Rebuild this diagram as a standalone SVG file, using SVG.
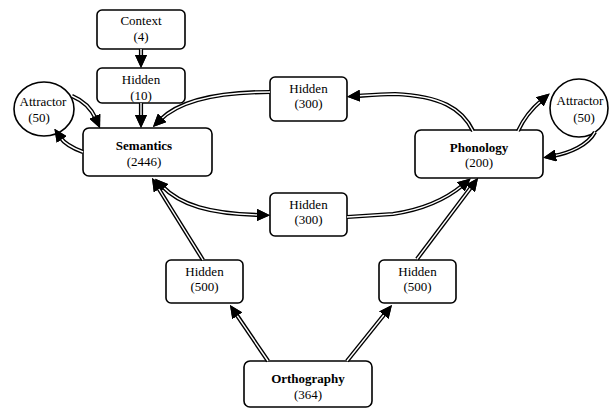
<svg xmlns="http://www.w3.org/2000/svg" xmlns:xlink="http://www.w3.org/1999/xlink" width="610" height="408" viewBox="0 0 610 408">
<style>
.box{fill:#fff;stroke:#000;stroke-width:1.6}
text{font-family:"Liberation Serif","Times New Roman",serif;font-size:13px;text-anchor:middle;fill:#000}
.b{font-weight:bold}
.o{fill:none;stroke:#000;stroke-width:4.2;marker-end:url(#ah)}
.i{fill:none;stroke:#fff;stroke-width:1.4;marker-end:url(#ah)}
.bi{marker-start:url(#ah)}
</style>
<defs>
<marker id="ah" viewBox="0 0 13 12" markerUnits="userSpaceOnUse" markerWidth="13" markerHeight="12" refX="3" refY="6" orient="auto-start-reverse">
<path d="M0,0 L13,6 L0,12 z" fill="#000"/>
</marker>
<path id="p1" d="M141,49 L141,58"/>
<path id="p2" d="M141,103 L141,118"/>
<path id="p3" d="M72,96 C84,101 92,110 96,119"/>
<path id="p4" d="M83,152 C72,148 64,143 60,137"/>
<path id="p5" d="M270,92 C220,92 180,100 160,120"/>
<path id="p6" d="M473,131 C462,108 440,96 395,94 C380,94 370,95 357,96"/>
<path id="p7" d="M162,186 C180,205 210,214 260,215"/>
<path id="p8" d="M347,217 L393,214 C420,210 445,200 463,185"/>
<path id="p9" d="M518,131 C523,120 530,110 542,100"/>
<path id="p10" d="M595,132 C588,145 570,153 553,156"/>
<path id="p11" d="M203,260 L157.3,186.5"/>
<path id="p12" d="M268,361 L235.6,313.3"/>
<path id="p13" d="M347,361 L385.7,312.8"/>
<path id="p14" d="M417,259 L472,186"/>
</defs>
<g id="nodes">
<g id="context"><rect class="box" x="97" y="10" width="88" height="39" rx="5"/><text x="141" y="25">Context</text><text x="141" y="41">(4)</text></g>
<g id="hidden10"><rect class="box" x="97" y="68" width="88" height="35" rx="5"/><text x="141" y="84">Hidden</text><text x="141" y="100">(10)</text></g>
<g id="semantics"><rect class="box" x="83" y="128" width="129" height="48" rx="6"/><text class="b" x="144" y="150">Semantics</text><text x="144" y="166">(2446)</text></g>
<g id="attractorL"><ellipse class="box" cx="44" cy="109" rx="30" ry="27"/><text x="43" y="106">Attractor</text><text x="39" y="122">(50)</text></g>
<g id="hidden300top"><rect class="box" x="270" y="77" width="77" height="44" rx="5"/><text x="308.5" y="93">Hidden</text><text x="308.5" y="108">(300)</text></g>
<g id="phonology"><rect class="box" x="415" y="130" width="128" height="48" rx="6"/><text class="b" x="479" y="152">Phonology</text><text x="479" y="167">(200)</text></g>
<g id="attractorR"><ellipse class="box" cx="579" cy="108" rx="29" ry="29"/><text x="580" y="105">Attractor</text><text x="584" y="122">(50)</text></g>
<g id="hidden300mid"><rect class="box" x="270" y="193" width="77" height="43" rx="5"/><text x="308.5" y="209">Hidden</text><text x="308.5" y="224">(300)</text></g>
<g id="hidden500L"><rect class="box" x="166" y="260" width="77" height="43" rx="5"/><text x="204.5" y="276">Hidden</text><text x="204.5" y="291">(500)</text></g>
<g id="hidden500R"><rect class="box" x="379" y="260" width="77" height="43" rx="5"/><text x="417.5" y="276">Hidden</text><text x="417.5" y="291">(500)</text></g>
<g id="orthography"><rect class="box" x="244" y="361" width="128" height="46" rx="6"/><text class="b" x="308" y="383">Orthography</text><text x="308" y="399">(364)</text></g>
</g>
<g id="connectors">
<use xlink:href="#p1" class="o"/><use xlink:href="#p1" class="i"/>
<use xlink:href="#p2" class="o"/><use xlink:href="#p2" class="i"/>
<use xlink:href="#p3" class="o"/><use xlink:href="#p3" class="i"/>
<use xlink:href="#p4" class="o"/><use xlink:href="#p4" class="i"/>
<use xlink:href="#p5" class="o"/><use xlink:href="#p5" class="i"/>
<use xlink:href="#p6" class="o"/><use xlink:href="#p6" class="i"/>
<use xlink:href="#p7" class="o bi"/><use xlink:href="#p7" class="i bi"/>
<use xlink:href="#p8" class="o"/><use xlink:href="#p8" class="i"/>
<use xlink:href="#p9" class="o"/><use xlink:href="#p9" class="i"/>
<use xlink:href="#p10" class="o"/><use xlink:href="#p10" class="i"/>
<use xlink:href="#p11" class="o"/><use xlink:href="#p11" class="i"/>
<use xlink:href="#p12" class="o"/><use xlink:href="#p12" class="i"/>
<use xlink:href="#p13" class="o"/><use xlink:href="#p13" class="i"/>
<use xlink:href="#p14" class="o"/><use xlink:href="#p14" class="i"/>
</g>
</svg>
